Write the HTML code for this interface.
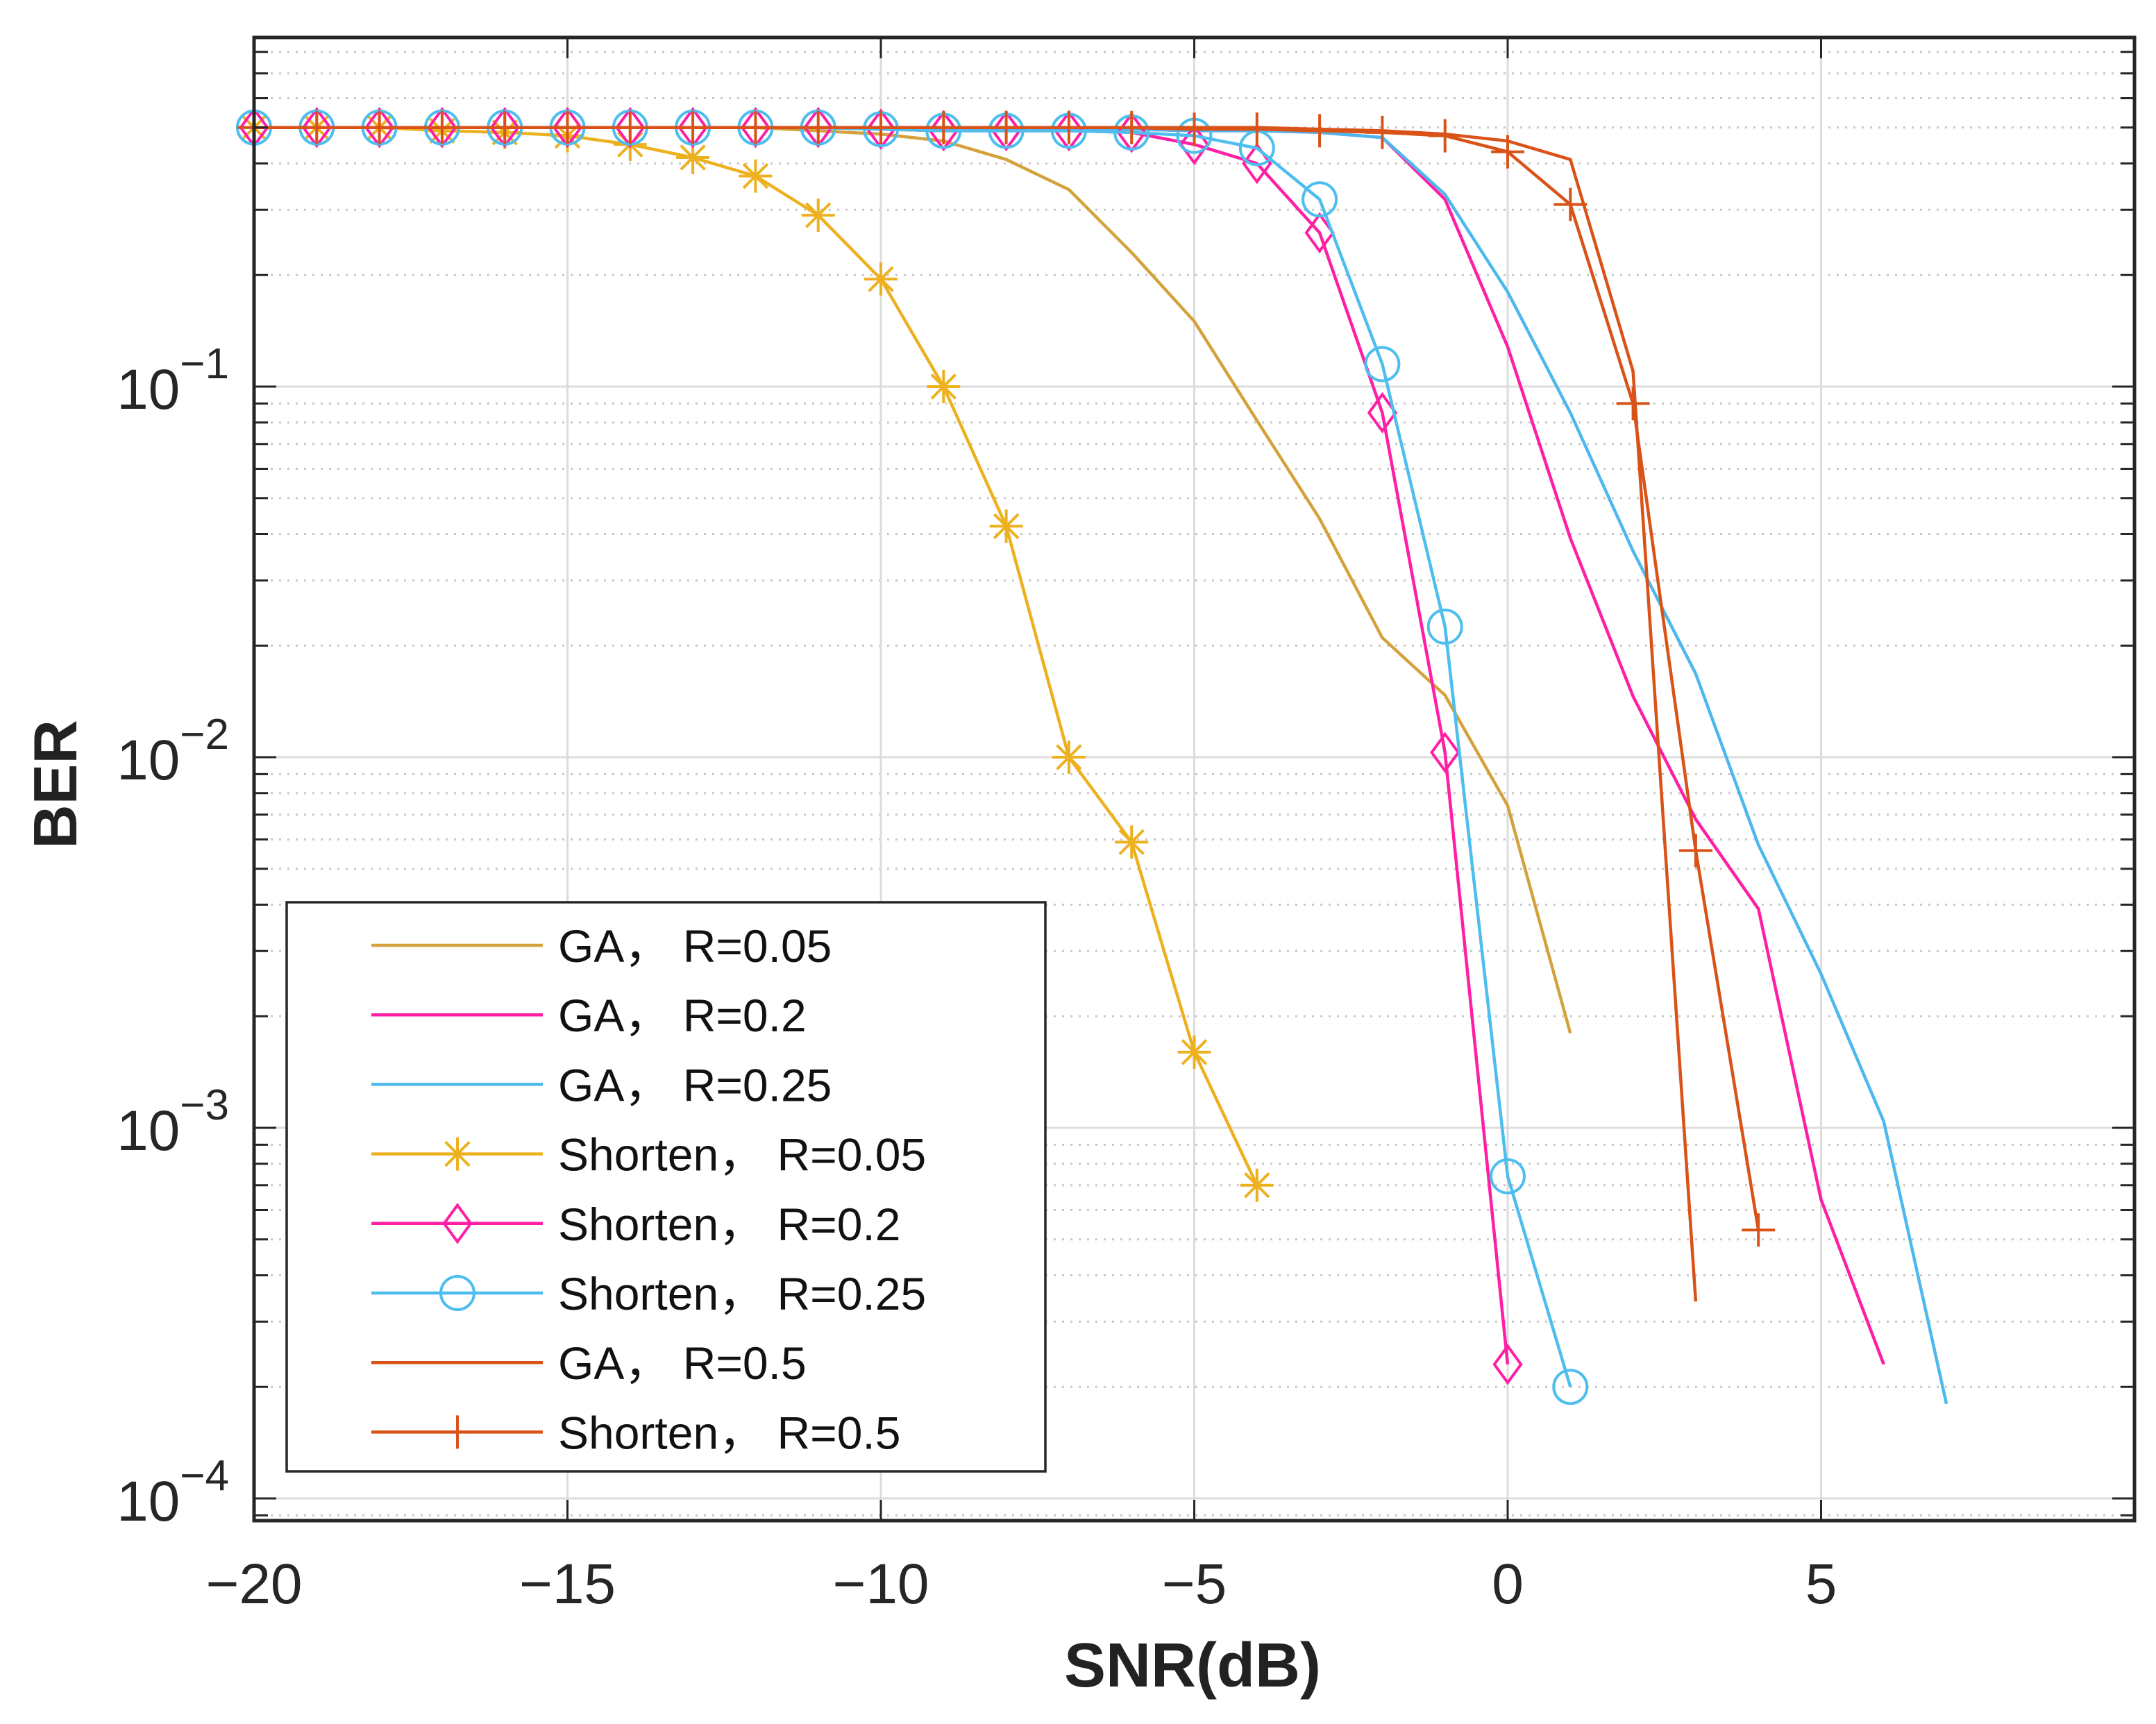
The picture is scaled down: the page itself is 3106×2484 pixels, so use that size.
<!DOCTYPE html>
<html><head><meta charset="utf-8">
<style>
html,body{margin:0;padding:0;background:#fff;}
svg{display:block;font-family:"Liberation Sans",Arial,sans-serif;}
</style></head>
<body>
<svg id="chart" width="3106" height="2484" viewBox="0 0 3106 2484" xmlns="http://www.w3.org/2000/svg">
<rect width="3106" height="2484" fill="#fff"/>
<g id="grid"></g>
<g id="series"></g>
<g id="axes"></g>
<text x="0" y="0" transform="translate(110,1130) rotate(-90)" text-anchor="middle" font-size="88" font-weight="bold" fill="#222">BER</text>
<text x="1718" y="2430" text-anchor="middle" font-size="90" font-weight="bold" fill="#222">SNR(dB)</text>
<g id="legend"></g>
</svg>
<script>
const xTicks=[-20,-15,-10,-5,0,5];
const yDecades=[-1,-2,-3,-4];
const snrShort05=[-20,-19,-18,-17,-16,-15,-14,-13,-12,-11,-10,-9,-8,-7,-6,-5,-4];
const berShort05=[0.5,0.5,0.5,0.49,0.485,0.475,0.45,0.415,0.37,0.29,0.195,0.1,0.042,0.01,0.0059,0.0016,0.0007];
const snrGA05=[-20,-19,-18,-17,-16,-15,-14,-13,-12,-11,-10,-9,-8,-7,-6,-5,-4,-3,-2,-1,0,1];
const berGA05=[0.5,0.5,0.5,0.5,0.5,0.5,0.5,0.5,0.5,0.49,0.48,0.46,0.41,0.34,0.23,0.15,0.081,0.044,0.021,0.0147,0.0074,0.0018];
const snrShort02=[-20,-19,-18,-17,-16,-15,-14,-13,-12,-11,-10,-9,-8,-7,-6,-5,-4,-3,-2,-1,0];
const berShort02=[0.5,0.5,0.5,0.5,0.5,0.5,0.5,0.5,0.5,0.5,0.495,0.49,0.49,0.49,0.485,0.45,0.40,0.26,0.085,0.0103,0.00023];
const snrGA02=[-20,-19,-18,-17,-16,-15,-14,-13,-12,-11,-10,-9,-8,-7,-6,-5,-4,-3,-2,-1,0,1,2,3,4,5,6];
const berGA02=[0.5,0.5,0.5,0.5,0.5,0.5,0.5,0.5,0.5,0.5,0.5,0.5,0.5,0.5,0.495,0.49,0.49,0.485,0.47,0.32,0.128,0.039,0.0146,0.0068,0.0039,0.00064,0.00023];
const snrShort025=[-20,-19,-18,-17,-16,-15,-14,-13,-12,-11,-10,-9,-8,-7,-6,-5,-4,-3,-2,-1,0,1];
const berShort025=[0.5,0.5,0.5,0.5,0.5,0.5,0.5,0.5,0.5,0.5,0.495,0.49,0.49,0.49,0.485,0.475,0.44,0.32,0.115,0.0225,0.00074,0.0002];
const snrGA025=[-20,-19,-18,-17,-16,-15,-14,-13,-12,-11,-10,-9,-8,-7,-6,-5,-4,-3,-2,-1,0,1,2,3,4,5,6,7];
const berGA025=[0.5,0.5,0.5,0.5,0.5,0.5,0.5,0.5,0.5,0.5,0.5,0.5,0.5,0.5,0.495,0.49,0.49,0.485,0.47,0.33,0.18,0.085,0.036,0.0168,0.0058,0.0026,0.00104,0.00018];
const snrShort5=[-20,-19,-18,-17,-16,-15,-14,-13,-12,-11,-10,-9,-8,-7,-6,-5,-4,-3,-2,-1,0,1,2,3,4];
const berShort5=[0.5,0.5,0.5,0.5,0.5,0.5,0.5,0.5,0.5,0.5,0.5,0.5,0.5,0.5,0.5,0.495,0.495,0.49,0.485,0.475,0.43,0.31,0.09,0.0056,0.00053];
const snrGA5=[-20,-19,-18,-17,-16,-15,-14,-13,-12,-11,-10,-9,-8,-7,-6,-5,-4,-3,-2,-1,0,1,2,3];
const berGA5=[0.5,0.5,0.5,0.5,0.5,0.5,0.5,0.5,0.5,0.5,0.5,0.5,0.5,0.5,0.5,0.5,0.5,0.495,0.49,0.48,0.46,0.41,0.11,0.00034];

const NS='http://www.w3.org/2000/svg';
const L=366,R=3075,T=54,B=2191;
const X0=-20,X1=10;
function xs(v){return L+(v-X0)/(X1-X0)*(R-L);}
function ys(v){return 557-534*(Math.log10(v)+1);}
function mk(tag,attrs,parent){const e=document.createElementNS(NS,tag);for(const k in attrs)e.setAttribute(k,attrs[k]);parent.appendChild(e);return e;}
const grid=document.getElementById('grid'),axes=document.getElementById('axes'),ser=document.getElementById('series'),leg=document.getElementById('legend');

for(let d=-5;d<0;d++){for(let m=2;m<=9;m++){const v=m*Math.pow(10,d);const y=ys(v);if(y<T||y>B)continue;
 const g=mk('line',{x1:L,x2:R,y1:y,y2:y,stroke:'#c8c8c8','stroke-width':3,'stroke-dasharray':'3 9'},grid);
 
 const t1=mk('line',{x1:L,x2:L+20,y1:y,y2:y,stroke:'#262626','stroke-width':3},axes);
 const t2=mk('line',{x1:R-20,x2:R,y1:y,y2:y,stroke:'#262626','stroke-width':3},axes);}}
yDecades.forEach(d=>{const y=ys(Math.pow(10,d));
 const g=mk('line',{x1:L,x2:R,y1:y,y2:y,stroke:'#dcdcdc','stroke-width':3},grid);
 const t1=mk('line',{x1:L,x2:L+32,y1:y,y2:y,stroke:'#262626','stroke-width':3},axes);
 const t2=mk('line',{x1:R-32,x2:R,y1:y,y2:y,stroke:'#262626','stroke-width':3},axes);
 const tx=mk('text',{x:L-36,y:y+32,'text-anchor':'end','font-size':82,fill:'#262626'},axes);
 
 tx.innerHTML='10<tspan dy="-44" font-size="62">\u2212'+(-d)+'</tspan>';});
xTicks.forEach(v=>{const x=xs(v);
 const g=mk('line',{x1:x,x2:x,y1:T,y2:B,stroke:'#dcdcdc','stroke-width':3},grid);
 const t1=mk('line',{x1:x,x2:x,y1:B,y2:B-30,stroke:'#262626','stroke-width':3},axes);
 const t2=mk('line',{x1:x,x2:x,y1:T,y2:T+30,stroke:'#262626','stroke-width':3},axes);
 const tx=mk('text',{x:x,y:2310,'text-anchor':'middle','font-size':82,fill:'#262626'},axes);
 
 tx.textContent=(v<0?'\u2212':'')+Math.abs(v);});
const box=mk('rect',{x:L,y:T,width:R-L,height:B-T,fill:'none',stroke:'#262626','stroke-width':5},axes);


function marker(type,x,y,color,parent){
 const s=24;let e;
 if(type==='star'){e=mk('path',{d:`M${x-s} ${y}H${x+s}M${x} ${y-s}V${y+s}M${x-s*0.72} ${y-s*0.72}L${x+s*0.72} ${y+s*0.72}M${x-s*0.72} ${y+s*0.72}L${x+s*0.72} ${y-s*0.72}`,stroke:color,'stroke-width':4,fill:'none'},parent);}
 else if(type==='diamond'){e=mk('path',{d:`M${x} ${y-s*1.1}L${x+s*0.8} ${y}L${x} ${y+s*1.1}L${x-s*0.8} ${y}Z`,stroke:color,'stroke-width':4,fill:'none'},parent);}
 else if(type==='circle'){e=mk('circle',{cx:x,cy:y,r:s,stroke:color,'stroke-width':4,fill:'none'},parent);}
 else if(type==='plus'){e=mk('path',{d:`M${x-s} ${y}H${x+s}M${x} ${y-s}V${y+s}`,stroke:color,'stroke-width':4,fill:'none'},parent);}
 return e;}
const seriesList=[
 {name:'ga-r005',label:'GA\uFF0C R=0.05',xs:snrGA05,ys:berGA05,color:'#D4A23C',m:null},
 {name:'ga-r02',label:'GA\uFF0C R=0.2',xs:snrGA02,ys:berGA02,color:'#FF1FA5',m:null},
 {name:'ga-r025',label:'GA\uFF0C R=0.25',xs:snrGA025,ys:berGA025,color:'#4DB8EE',m:null},
 {name:'shorten-r005',label:'Shorten\uFF0C R=0.05',xs:snrShort05,ys:berShort05,color:'#EDB120',m:'star'},
 {name:'shorten-r02',label:'Shorten\uFF0C R=0.2',xs:snrShort02,ys:berShort02,color:'#FF1FA5',m:'diamond'},
 {name:'shorten-r025',label:'Shorten\uFF0C R=0.25',xs:snrShort025,ys:berShort025,color:'#4DBEEE',m:'circle'},
 {name:'ga-r05',label:'GA\uFF0C R=0.5',xs:snrGA5,ys:berGA5,color:'#D95319',m:null},
 {name:'shorten-r05',label:'Shorten\uFF0C R=0.5',xs:snrShort5,ys:berShort5,color:'#D95319',m:'plus'}];
seriesList.forEach(s=>{
 const g=mk('g',{},ser);
 
 
 const pts=s.xs.map((v,i)=>xs(v).toFixed(1)+','+ys(s.ys[i]).toFixed(1)).join(' ');
 const pl=mk('polyline',{points:pts,fill:'none',stroke:s.color,'stroke-width':4.5,'stroke-linejoin':'round'},g);
 
 
 if(s.m){s.xs.forEach((v,i)=>{const m=marker(s.m,xs(v),ys(s.ys[i]),s.color,g);
  
  });}
});
const lb=mk('rect',{x:413,y:1300,width:1093,height:820,fill:'#fff',stroke:'#262626','stroke-width':3.5},leg);

seriesList.forEach((s,i)=>{const y=1362+i*100.2;
 const g=mk('g',{},leg);
 
 
 mk('line',{x1:535,x2:782,y1:y,y2:y,stroke:s.color,'stroke-width':4.5},g);
 if(s.m)marker(s.m,659,y,s.color,g);
 const t=mk('text',{x:804,y:y+24,'font-size':66,fill:'#111'},g);
 
 
 t.setAttribute('style','font-family:"Liberation Sans","Noto Sans CJK SC",sans-serif');
 t.textContent=s.label;});
</script>
</body></html>
